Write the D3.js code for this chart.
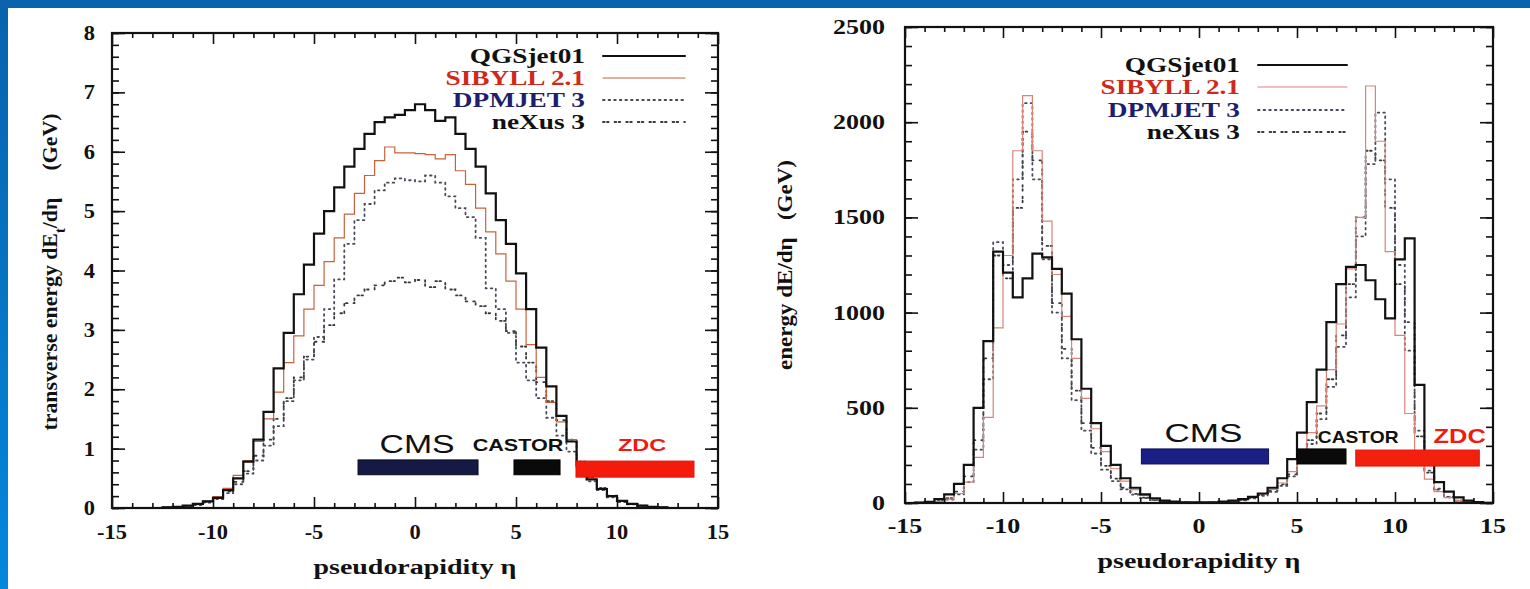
<!DOCTYPE html>
<html>
<head>
<meta charset="utf-8">
<script src="https://cdn.jsdelivr.net/npm/d3@7"></script>
<style>
body { margin: 0; overflow: hidden; background: #fff; }
</style>
</head>
<body>
<div id="chart"></div>
<script>
var w = 1530;
var h = 589;

// legend / model names
var models = ["QGSjet01", "SIBYLL 2.1", "DPMJET 3", "neXus 3"];

// left panel: transverse energy dEt/deta (GeV), bins of 0.5 from eta = -13
var etBinStart = -13, etBinWidth = 0.5;
var etQGS = [0,0.01,0.02,0.04,0.07,0.11,0.17,0.30,0.50,0.78,1.15,1.62,2.35,2.95,3.60,4.10,4.62,5.00,5.40,5.75,6.05,6.30,6.50,6.58,6.62,6.70,
             6.80,6.70,6.52,6.58,6.30,6.05,5.75,5.30,4.85,4.45,3.95,3.35,2.70,2.05,1.55,1.12,0.72,0.48,0.32,0.20,0.12,0.07,0.04,0.02,0.01,0];
var etSIB = [0,0.01,0.02,0.04,0.07,0.12,0.19,0.33,0.55,0.80,1.12,1.50,1.95,2.45,2.90,3.35,3.75,4.15,4.55,4.95,5.30,5.60,5.85,6.08,5.98,5.98,
             5.97,5.95,5.88,5.95,5.68,5.45,5.05,4.65,4.28,3.82,3.35,2.75,2.20,1.78,1.45,1.15,0.75,0.50,0.33,0.21,0.12,0.07,0.04,0.02,0.01,0];
var etDPM = [0,0.01,0.02,0.03,0.05,0.09,0.15,0.25,0.40,0.58,0.80,1.05,1.38,1.80,2.15,2.50,2.88,3.35,3.85,4.45,4.85,5.12,5.35,5.48,5.55,5.52,
             5.50,5.60,5.48,5.25,5.05,4.90,4.55,3.70,3.35,2.95,2.45,2.15,1.85,1.52,1.22,0.95,0.68,0.45,0.30,0.18,0.10,0.06,0.03,0.02,0.01,0];
var etNEX = [0,0.01,0.02,0.03,0.06,0.10,0.17,0.28,0.44,0.62,0.88,1.15,1.50,1.85,2.20,2.55,2.80,3.08,3.28,3.45,3.58,3.68,3.75,3.82,3.88,3.80,
             3.84,3.72,3.82,3.68,3.58,3.48,3.40,3.28,3.15,2.98,2.72,2.45,2.12,1.80,1.48,1.15,0.78,0.52,0.34,0.21,0.12,0.07,0.04,0.02,0.01,0];

// right panel: energy dE/deta (GeV), bins of 0.5 from eta = -15
var eBinStart = -15, eBinWidth = 0.5;
var eQGS = [0,2,6,20,45,100,200,500,850,1320,1210,1080,1180,1310,1290,1230,1100,860,600,420,300,200,130,80,45,25,13,7,4,3,
            3,4,7,12,20,32,50,80,130,230,370,530,700,950,1150,1240,1250,1170,1070,970,1280,1390,620,220,110,60,30,12,5,1];
var eSIB = [0,1,3,8,20,50,110,240,450,920,1300,1850,2140,1850,1480,1200,980,760,550,390,270,180,115,70,40,22,12,6,3,2,
            2,3,6,11,18,30,48,72,105,165,250,370,510,700,940,1230,1500,2190,1900,1320,880,470,250,125,60,28,12,5,2,0];
var eDPM = [0,1,3,7,18,45,110,280,650,1370,1250,1700,2100,1700,1280,1000,760,540,380,260,175,115,72,44,26,15,8,4,2,1,
            1,2,4,8,14,24,38,58,90,140,210,310,440,610,820,1080,1400,1780,2050,1700,1250,800,380,170,75,32,13,5,2,0];
var eNEX = [0,2,4,10,25,60,140,330,760,1300,1180,1550,1950,1800,1350,1050,810,590,420,290,195,128,80,48,28,16,9,5,3,2,
            2,3,5,9,16,27,42,64,98,150,225,330,470,650,880,1150,1500,1850,1800,1550,1150,950,350,160,70,30,12,5,2,0];

// tick labels
var xTicks = [-15, -10, -5, 0, 5, 10, 15];
var etTicks = [0, 1, 2, 3, 4, 5, 6, 7, 8];
var eTicks = [0, 500, 1000, 1500, 2000, 2500];

// detector acceptance bars (eta ranges as drawn in each panel)
var detNames = ["CMS", "CASTOR", "ZDC"];
var detMinL = [-2.82, 4.9, 7.97], detMaxL = [3.12, 7.18, 13.81];
var detMinR = [-2.94, 5.0, 8.0], detMaxR = [3.55, 7.5, 14.3];

var serif = "'Liberation Serif', 'Times New Roman', serif";
var sans = "'Liberation Sans', Arial, sans-serif";

var svg = d3.select("#chart")
            .append("svg")
            .attr("width", w)
            .attr("height", h);

// slide background: blue border, white sheet
var defs = svg.append("defs");
var grad = defs.append("linearGradient").attr("id", "side").attr("x1", 0).attr("y1", 0).attr("x2", 0).attr("y2", 1);
grad.append("stop").attr("offset", "0%").attr("stop-color", "#0862ac");
grad.append("stop").attr("offset", "100%").attr("stop-color", "#0487dc");
svg.append("rect").attr("width", w).attr("height", h).attr("fill", "url(#side)");
svg.append("rect").attr("width", w).attr("height", 8).attr("fill", "#0a63ad");
svg.append("rect").attr("x", 8).attr("y", 8).attr("width", w - 8).attr("height", h - 8).attr("fill", "#fff");

var lineStyle = [
    {stroke: "#111", width: 2.2, dash: null},
    {stroke: "#c4664e", width: 1.2, dash: null},
    {stroke: "#4a4a5a", width: 1.8, dash: "1.6,4"},
    {stroke: "#3a3a3a", width: 1.8, dash: "1.6,2.4,1.6,6"}
];

function stepPath(start, width, vals, x, y) {
    var pts = [];
    vals.forEach(function(v, i) {
        pts.push([start + i * width, v]);
        pts.push([start + (i + 1) * width, v]);
    });
    return d3.line()
        .x(function(d) { return x(d[0]); })
        .y(function(d) { return y(d[1]); })(pts);
}

function label(g, x, y, str, size, sx, anchor, opts) {
    opts = opts || {};
    return g.append("text")
        .attr("transform", "translate(" + x + "," + y + ") scale(" + sx + ",1)")
        .attr("text-anchor", anchor)
        .style("font-family", opts.family || serif)
        .style("font-size", size + "px")
        .style("font-weight", opts.weight || "bold")
        .attr("fill", opts.fill || "#111")
        .text(str);
}

function frame(g, x, y, yMinorStep) {
    var x0 = x.range()[0], x1 = x.range()[1], y0 = y.range()[0], y1 = y.range()[1];
    var xMinor = d3.range(-15, 15.01, 1).filter(function(d) { return d % 5 !== 0; });
    var yDom = y.domain();
    var yMinor = d3.range(yDom[0], yDom[1] + 1e-6, yMinorStep);
    var yMajor = y.ticks(yDom[1] > 100 ? 5 : 8);

    var axes = [
        [d3.axisBottom(x).tickValues(xTicks), "translate(0," + y0 + ")", 11],
        [d3.axisBottom(x).tickValues(xMinor), "translate(0," + y0 + ")", 5],
        [d3.axisTop(x).tickValues(xTicks), "translate(0," + y1 + ")", 11],
        [d3.axisTop(x).tickValues(xMinor), "translate(0," + y1 + ")", 5],
        [d3.axisLeft(y).tickValues(yMajor), "translate(" + x0 + ",0)", 13],
        [d3.axisLeft(y).tickValues(yMinor), "translate(" + x0 + ",0)", 7],
        [d3.axisRight(y).tickValues(yMajor), "translate(" + x1 + ",0)", 13],
        [d3.axisRight(y).tickValues(yMinor), "translate(" + x1 + ",0)", 7]
    ];
    axes.forEach(function(a) {
        var ax = g.append("g")
            .attr("transform", a[1])
            .call(a[0].tickSize(-a[2]).tickSizeOuter(0).tickFormat(""));
        ax.select(".domain").remove();
        ax.selectAll("line").attr("stroke", "#111").attr("stroke-width", 1.6);
    });

    g.append("rect")
        .attr("x", x0).attr("y", y1)
        .attr("width", x1 - x0).attr("height", y0 - y1)
        .attr("fill", "none").attr("stroke", "#111").attr("stroke-width", 2.2);
}

function panel(cfg) {
    var g = svg.append("g");
    var x = cfg.x, y = cfg.y;

    // histograms, last model first so QGSjet sits on top
    [3, 2, 1, 0].forEach(function(k) {
        var s = lineStyle[k];
        g.append("path")
            .attr("d", stepPath(cfg.start, cfg.width, cfg.series[k], x, y))
            .attr("fill", "none")
            .attr("stroke", k === 1 ? cfg.sibColor : s.stroke)
            .attr("stroke-width", s.width)
            .attr("stroke-dasharray", s.dash)
            .attr("stroke-linecap", "round");
    });

    frame(g, x, y, cfg.yMinor);

    // tick labels
    xTicks.forEach(function(t) {
        label(g, x(t), cfg.xLabelY, t, 20, cfg.sx, "middle");
    });
    cfg.yTicks.forEach(function(t) {
        label(g, x.range()[0] - cfg.yLabelGap, y(t) + 7, t, 20, cfg.sx, "end");
    });

    // detector bars
    detNames.forEach(function(n, i) {
        var lo = cfg.barLo[i], hi = cfg.barHi[i];
        g.append("rect")
            .attr("x", x(cfg.detMin[i]))
            .attr("y", y(hi))
            .attr("width", x(cfg.detMax[i]) - x(cfg.detMin[i]))
            .attr("height", y(lo) - y(hi))
            .attr("fill", cfg.detFill[i])
            .attr("stroke", cfg.detStroke[i])
            .attr("stroke-width", 1);
        var lp = cfg.detLabel[i];
        label(g, x(lp[0]), y(lp[1]), n, lp[2], lp[3], "middle", {
            family: sans,
            weight: i === 0 ? "normal" : "bold",
            fill: i === 2 ? "#ee1c10" : "#111"
        });
    });

    // legend
    var textFill = ["#111", "#d2281a", "#1e1e6e", "#111"];
    models.forEach(function(m, i) {
        var by = cfg.legY[i];
        label(g, cfg.legTextX, by, m, 21, 1.3, "end", {fill: textFill[i]});
        var s = lineStyle[i];
        g.append("line")
            .attr("x1", cfg.legLine[0]).attr("x2", cfg.legLine[1])
            .attr("y1", by - 7).attr("y2", by - 7)
            .attr("stroke", i === 1 ? cfg.sibColor : s.stroke)
            .attr("stroke-width", i === 0 ? 2 : s.width)
            .attr("stroke-dasharray", s.dash)
            .attr("stroke-linecap", "round");
    });

    // axis titles
    g.append("text")
        .attr("x", (x.range()[0] + x.range()[1]) / 2)
        .attr("y", cfg.xTitleY)
        .attr("text-anchor", "middle")
        .style("font-family", serif)
        .style("font-size", "20px")
        .style("font-weight", "bold")
        .attr("textLength", 203)
        .attr("lengthAdjust", "spacingAndGlyphs")
        .attr("fill", "#111")
        .text("pseudorapidity \u03b7");

    var yt = g.append("text")
        .attr("transform", "translate(" + cfg.yTitle[0] + "," + cfg.yTitle[1] + ") rotate(-90)")
        .attr("text-anchor", "middle")
        .style("font-family", serif)
        .style("font-size", "21px")
        .style("font-weight", "bold")
        .attr("textLength", cfg.yTitle[2])
        .attr("lengthAdjust", "spacingAndGlyphs")
        .attr("fill", "#111")
        .attr("xml:space", "preserve");
    cfg.yTitleParts.forEach(function(p) {
        var ts = yt.append("tspan").text(p[0]);
        if (p[1]) ts.attr("baseline-shift", "sub").style("font-size", "14px");
    });
}

panel({
    x: d3.scaleLinear().domain([-15, 15]).range([112, 718]),
    y: d3.scaleLinear().domain([0, 8]).range([508, 33]),
    start: etBinStart, width: etBinWidth,
    series: [etQGS, etSIB, etDPM, etNEX],
    sibColor: "#c8623e",
    yMinor: 0.2,
    yTicks: etTicks,
    sx: 1.12, xLabelY: 539, yLabelGap: 17,
    detMin: detMinL, detMax: detMaxL,
    barLo: [0.56, 0.56, 0.52], barHi: [0.81, 0.81, 0.79],
    detFill: ["#141a44", "#0a0a0a", "#f41a0c"],
    detStroke: ["#0a0a20", "#000", "#e01008"],
    detLabel: [[0.1, 0.93, 26, 1.3], [5.1, 0.96, 16, 1.35], [11.24, 0.96, 17, 1.38]],
    legTextX: 585, legY: [63, 85, 107, 129], legLine: [603, 685],
    xTitleY: 574,
    yTitle: [57, 272, 317],
    yTitleParts: [["transverse energy dE"], ["t", true], ["/d\u03b7     (GeV)"]]
});

panel({
    x: d3.scaleLinear().domain([-15, 15]).range([905, 1493]),
    y: d3.scaleLinear().domain([0, 2500]).range([503, 27]),
    start: eBinStart, width: eBinWidth,
    series: [eQGS, eSIB, eDPM, eNEX],
    sibColor: "#d98478",
    yMinor: 100,
    yTicks: eTicks,
    sx: 1.3, xLabelY: 533, yLabelGap: 20,
    detMin: detMinR, detMax: detMaxR,
    barLo: [205, 205, 194], barHi: [284, 284, 278],
    detFill: ["#1a1f86", "#0a0a0a", "#f4200e"],
    detStroke: ["#10105a", "#000", "#e01008"],
    detLabel: [[0.23, 320, 26, 1.35], [8.12, 315, 16, 1.2], [13.3, 315, 20, 1.27]],
    legTextX: 1240, legY: [72, 94, 117, 139], legLine: [1258, 1347],
    xTitleY: 568,
    yTitle: [792, 265, 210],
    yTitleParts: [["energy dE/d\u03b7   (GeV)"]]
});
</script>
</body>
</html>
